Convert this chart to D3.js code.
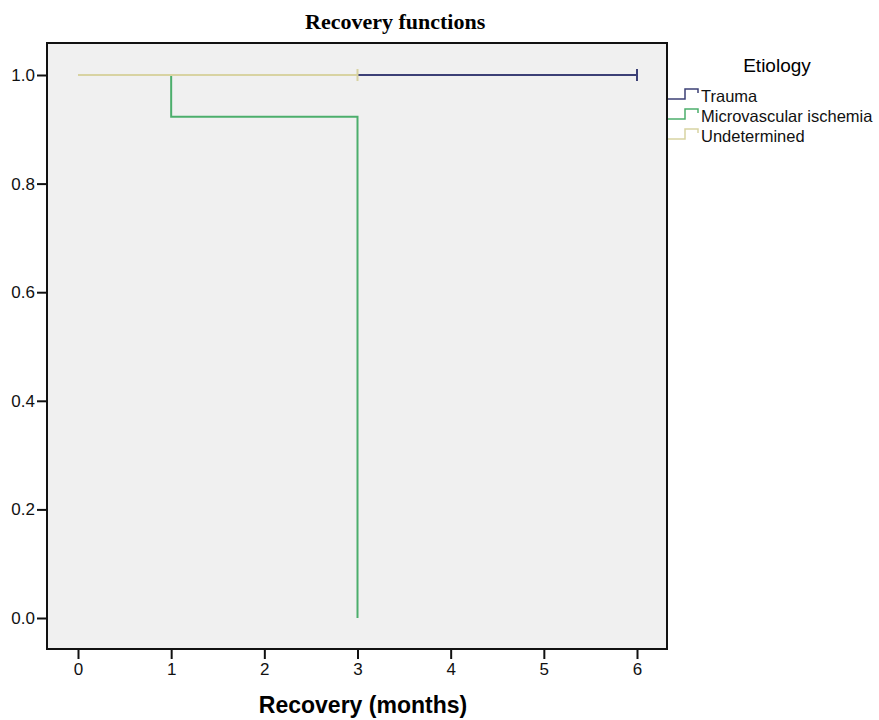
<!DOCTYPE html>
<html>
<head>
<meta charset="utf-8">
<script src="https://cdn.jsdelivr.net/npm/d3@7"></script>
<style>
  body { margin: 0; background: #fff; }
  .axis text { font-family: Arial, "Liberation Sans", sans-serif; fill: #111; }
</style>
</head>
<body>
<div id="chart"></div>
<script>
// Kaplan-Meier style recovery curves
const groups = ["Trauma", "Microvascular ischemia", "Undetermined"];
const colors = ["#3c4076", "#4cae6c", "#d8d3a2"];

const traumaTimes = [0, 6];
const traumaSurv = [1, 1];
const traumaCensor = [6];

const microTimes = [0, 1, 3];
const microSurv = [1, 0.923, 0];
const microCensor = [];

const undetTimes = [0, 3];
const undetSurv = [1, 1];
const undetCensor = [3];

const xTicks = [0, 1, 2, 3, 4, 5, 6];
const yTicks = [0, 0.2, 0.4, 0.6, 0.8, 1.0];

const series = [
  { name: groups[0], color: colors[0], t: traumaTimes, s: traumaSurv, c: traumaCensor },
  { name: groups[1], color: colors[1], t: microTimes, s: microSurv, c: microCensor },
  { name: groups[2], color: colors[2], t: undetTimes, s: undetSurv, c: undetCensor }
];

const W = 879, H = 720;
const box = { left: 47, right: 667, top: 43, bottom: 649 };

const svg = d3.select("#chart").append("svg")
  .attr("width", W)
  .attr("height", H);

const x = d3.scaleLinear().domain([0, 6]).range([78, 637]);
const y = d3.scaleLinear().domain([0, 1]).range([618, 75]);

// plot frame
svg.append("rect")
  .attr("x", box.left)
  .attr("y", box.top)
  .attr("width", box.right - box.left)
  .attr("height", box.bottom - box.top)
  .attr("fill", "#f0f0f0")
  .attr("stroke", "#111")
  .attr("stroke-width", 2);

// axes
const yAxis = svg.append("g")
  .attr("class", "axis")
  .attr("transform", "translate(" + box.left + ",0)")
  .call(d3.axisLeft(y).tickValues(yTicks).tickFormat(d3.format(".1f")).tickSize(10).tickPadding(2));
yAxis.select(".domain").remove();
yAxis.selectAll("line").attr("stroke", "#111").attr("stroke-width", 2);
yAxis.selectAll("text").style("font-size", "17px");

const xAxis = svg.append("g")
  .attr("class", "axis")
  .attr("transform", "translate(0," + box.bottom + ")")
  .call(d3.axisBottom(x).tickValues(xTicks).tickFormat(d3.format("d")).tickSize(10).tickPadding(4));
xAxis.select(".domain").remove();
xAxis.selectAll("line").attr("stroke", "#111").attr("stroke-width", 2);
xAxis.selectAll("text").style("font-size", "17px");

// step curves
const line = d3.line()
  .x(d => x(d[0]))
  .y(d => y(d[1]))
  .curve(d3.curveStepAfter);

series.forEach(sr => {
  const pts = sr.t.map((t, i) => [t, sr.s[i]]);
  svg.append("path")
    .datum(pts)
    .attr("fill", "none")
    .attr("stroke", sr.color)
    .attr("stroke-width", 2)
    .attr("d", line);

  // censor ticks
  sr.c.forEach(ct => {
    const idx = d3.bisectRight(sr.t, ct) - 1;
    const sv = sr.s[Math.max(0, idx)];
    svg.append("line")
      .attr("x1", x(ct)).attr("x2", x(ct))
      .attr("y1", y(sv) - 6).attr("y2", y(sv) + 6)
      .attr("stroke", sr.color)
      .attr("stroke-width", 2);
  });
});

// titles
svg.append("text")
  .attr("x", 305)
  .attr("y", 29)
  .style("font-family", "'Liberation Serif', 'Times New Roman', serif")
  .style("font-weight", "bold")
  .style("font-size", "22px")
  .text("Recovery functions");

svg.append("text")
  .attr("x", 363)
  .attr("y", 713)
  .attr("text-anchor", "middle")
  .style("font-family", "Arial, 'Liberation Sans', sans-serif")
  .style("font-weight", "bold")
  .style("font-size", "23px")
  .text("Recovery (months)");

// legend
const leg = svg.append("g");
leg.append("text")
  .attr("x", 777)
  .attr("y", 72)
  .attr("text-anchor", "middle")
  .style("font-family", "Arial, 'Liberation Sans', sans-serif")
  .style("font-size", "19px")
  .text("Etiology");

series.forEach((sr, i) => {
  const by = 99 + i * 20;
  leg.append("path")
    .attr("d", "M" + 668 + "," + by + "H685V" + (by - 10) + "H698V" + (by - 6))
    .attr("fill", "none")
    .attr("stroke", sr.color)
    .attr("stroke-width", 1.5);
  leg.append("text")
    .attr("x", 701)
    .attr("y", by + 3)
    .style("font-family", "Arial, 'Liberation Sans', sans-serif")
    .style("font-size", "16.5px")
    .attr("fill", "#111")
    .text(sr.name);
});
</script>
</body>
</html>
